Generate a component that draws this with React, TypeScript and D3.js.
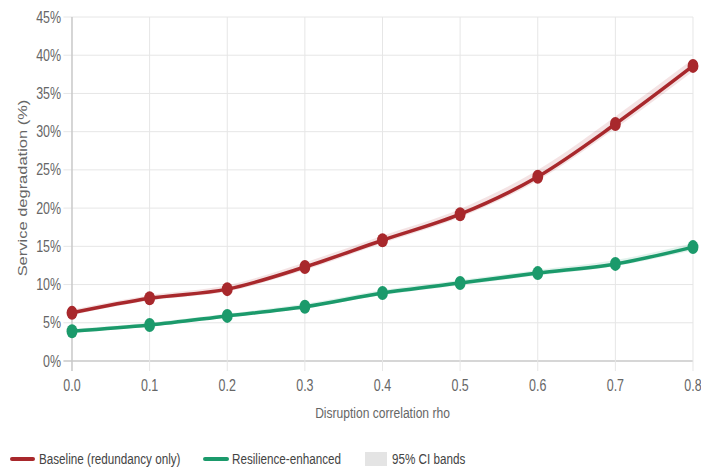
import React from "react";
import * as d3 from "d3";

const rho = [0.0, 0.1, 0.2, 0.3, 0.4, 0.5, 0.6, 0.7, 0.8];
const baseline = [6.3, 8.2, 9.4, 12.3, 15.8, 19.2, 24.1, 31.0, 38.6];
const baselineLo = [6.0, 7.9, 9.1, 11.9, 15.4, 18.8, 23.6, 30.4, 37.9];
const baselineHi = [6.7, 8.6, 9.9, 12.9, 16.4, 19.9, 25.0, 32.0, 39.5];
const resilience = [3.9, 4.7, 5.9, 7.1, 8.9, 10.2, 11.5, 12.7, 14.9];
const resilienceLo = [3.7, 4.5, 5.7, 6.9, 8.6, 9.9, 11.2, 12.4, 14.5];
const resilienceHi = [4.2, 5.0, 6.2, 7.5, 9.3, 10.6, 11.9, 13.2, 15.4];
const yTicks = [0, 5, 10, 15, 20, 25, 30, 35, 40, 45];
const xTicks = [0.0, 0.1, 0.2, 0.3, 0.4, 0.5, 0.6, 0.7, 0.8];
const seriesNames = ["Baseline (redundancy only)", "Resilience-enhanced", "95% CI bands"];

const W = 701;
const H = 467;
const S = 0.779; // horizontal squeeze
const VW = W / S;

const RED = "#a8282c";
const GREEN = "#1b9a6b";

export default function App() {
  const left = 72 / S;
  const right = 693 / S;
  const top = 17;
  const bottom = 361;
  const x = d3.scaleLinear().domain([0, 0.8]).range([left, right]);
  const y = d3.scaleLinear().domain([0, 45]).range([bottom, top]);

  const line = d3
    .line<number>()
    .x((_, i) => x(rho[i]))
    .y((d) => y(d))
    .curve(d3.curveMonotoneX);

  const area = (lo: number[], hi: number[]) =>
    d3
      .area<number>()
      .x((_, i) => x(rho[i]))
      .y0((_, i) => y(lo[i]))
      .y1((_, i) => y(hi[i]))
      .curve(d3.curveMonotoneX)(rho as any) as string;

  const font = "'Liberation Sans', Arial, sans-serif";
  const nss = { vectorEffect: "non-scaling-stroke" as const };

  return (
    <svg
      width={W}
      height={H}
      viewBox={`0 0 ${VW} ${H}`}
      preserveAspectRatio="none"
      style={{ position: "absolute", left: 0, top: 0, background: "#fff" }}
      fontFamily={font}
    >
      {/* grid */}
      {yTicks.map((t) => (
        <g key={"y" + t}>
          <line
            x1={left - 11}
            x2={right}
            y1={y(t)}
            y2={y(t)}
            stroke={t === 0 ? "#c8c8c8" : "#e6e6e6"}
            strokeWidth={t === 0 ? 1.5 : 1}
            style={nss}
          />
          <text
            x={left - 14}
            y={y(t)}
            dy="0.35em"
            textAnchor="end"
            fontSize={16}
            fill="#666"
          >
            {t}%
          </text>
        </g>
      ))}
      {xTicks.map((t) => (
        <g key={"x" + t}>
          <line
            x1={x(t)}
            x2={x(t)}
            y1={top}
            y2={bottom + 10}
            stroke={t === 0 ? "#c8c8c8" : "#e6e6e6"}
            strokeWidth={t === 0 ? 1.5 : 1}
            style={nss}
          />
          <text
            x={x(t)}
            y={385}
            dy="0.35em"
            textAnchor="middle"
            fontSize={16}
            fill="#666"
          >
            {t.toFixed(1)}
          </text>
        </g>
      ))}

      {/* axis titles */}
      <text
        x={(left + right) / 2}
        y={413}
        dy="0.35em"
        textAnchor="middle"
        fontSize={15.5}
        fill="#666"
      >
        Disruption correlation rho
      </text>
      <text
        transform={`translate(${22 / S},188) rotate(-90)`}
        textAnchor="middle"
        dy="0.35em"
        fontSize={16.5}
        fill="#666"
      >
        Service degradation (%)
      </text>

      {/* CI bands */}
      <path d={area(baselineLo, baselineHi)} fill={RED} fillOpacity={0.13} />
      <path d={area(resilienceLo, resilienceHi)} fill={GREEN} fillOpacity={0.13} />

      {/* lines */}
      <path d={line(baseline) as string} fill="none" stroke={RED} strokeWidth={3.5} style={nss} />
      <path d={line(resilience) as string} fill="none" stroke={GREEN} strokeWidth={3.5} style={nss} />

      {baseline.map((v, i) => (
        <circle key={"b" + i} cx={x(rho[i])} cy={y(v)} r={7} fill={RED} />
      ))}
      {resilience.map((v, i) => (
        <circle key={"r" + i} cx={x(rho[i])} cy={y(v)} r={7} fill={GREEN} />
      ))}

      {/* legend */}
      <g fontSize={15} fill="#444">
        <line x1={12 / S} x2={33 / S} y1={459} y2={459} stroke={RED} strokeWidth={4} strokeLinecap="round" style={nss} />
        <text x={39 / S} y={459} dy="0.35em">{seriesNames[0]}</text>
        <line x1={205 / S} x2={227 / S} y1={459} y2={459} stroke={GREEN} strokeWidth={4} strokeLinecap="round" style={nss} />
        <text x={232 / S} y={459} dy="0.35em">{seriesNames[1]}</text>
        <rect x={365 / S} y={452} width={22 / S} height={14} fill="#e4e4e4" />
        <text x={392 / S} y={459} dy="0.35em">{seriesNames[2]}</text>
      </g>
    </svg>
  );
}
